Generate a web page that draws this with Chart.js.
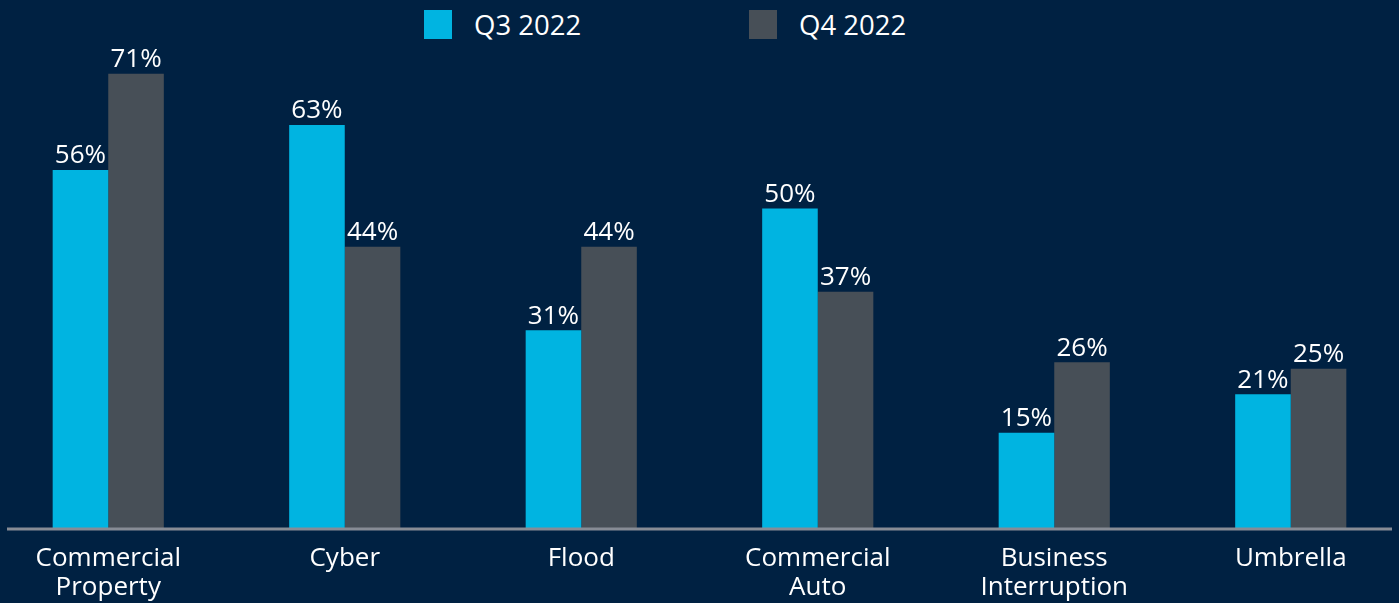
<!DOCTYPE html>
<html lang="en">
<head>
    <meta charset="UTF-8">
    <title>Coverage change by line</title>
    <script src="https://cdn.jsdelivr.net/npm/chart.js"></script>
    <style>
        html, body { margin: 0; padding: 0; background: #002142; overflow: hidden; }
        #wrap { position: absolute; left: -10px; top: 0; width: 1419px; height: 603px; }
        .legend { position: absolute; top: 6px; font-family: 'Open Sans', sans-serif; font-size: 27.5px; color: #fff; display: flex; align-items: center; }
        .legend span.box { display: inline-block; width: 28px; height: 29px; margin-right: 22px; }
    </style>
</head>
<body>
    <div class="legend" style="left:424px"><span class="box" style="background:#00b4e1"></span>Q3 2022</div>
    <div class="legend" style="left:749px"><span class="box" style="background:#474f57"></span>Q4 2022</div>
    <div id="wrap"><canvas id="chart"></canvas></div>
    <script>
        const categories = [['Commercial', 'Property'], 'Cyber', 'Flood', ['Commercial', 'Auto'], ['Business', 'Interruption'], 'Umbrella'];
        const q3_2022 = [56, 63, 31, 50, 15, 21];
        const q4_2022 = [71, 44, 44, 37, 26, 25];

        // value labels above each bar
        const barLabels = {
            id: 'barLabels',
            afterDatasetsDraw(chart) {
                const ctx = chart.ctx;
                ctx.save();
                ctx.fillStyle = '#ffffff';
                ctx.font = '26px "Open Sans", sans-serif';
                ctx.textAlign = 'center';
                ctx.textBaseline = 'bottom';
                chart.data.datasets.forEach((ds, i) => {
                    chart.getDatasetMeta(i).data.forEach((bar, j) => {
                        ctx.fillText(ds.data[j] + '%', bar.x, bar.y - 1);
                    });
                });
                ctx.restore();
            }
        };

        // grey baseline under the bars
        const baseLine = {
            id: 'baseLine',
            afterDatasetsDraw(chart) {
                const ctx = chart.ctx;
                const y = chart.scales.y.getPixelForValue(0);
                ctx.save();
                ctx.strokeStyle = '#878c95';
                ctx.lineWidth = 3;
                ctx.beginPath();
                ctx.moveTo(17, y);
                ctx.lineTo(1402, y);
                ctx.stroke();
                ctx.restore();
            }
        };

        new Chart(document.getElementById('chart'), {
            type: 'bar',
            data: {
                labels: categories,
                datasets: [
                    { label: 'Q3 2022', data: q3_2022, backgroundColor: '#00b4e1' },
                    { label: 'Q4 2022', data: q4_2022, backgroundColor: '#474f57' }
                ]
            },
            options: {
                responsive: true,
                maintainAspectRatio: false,
                animation: false,
                categoryPercentage: 0.47,
                barPercentage: 1,
                layout: { padding: 0 },
                plugins: {
                    legend: { display: false },
                    tooltip: { enabled: false }
                },
                scales: {
                    x: {
                        grid: { display: false },
                        border: { display: false },
                        ticks: {
                            color: '#ffffff',
                            font: { family: 'Open Sans', size: 26, lineHeight: 1.08 },
                            padding: 8,
                            maxRotation: 0,
                            autoSkip: false
                        },
                        afterFit(scale) { scale.height = 74; }
                    },
                    y: {
                        display: false,
                        min: 0,
                        max: 82.5
                    }
                }
            },
            plugins: [barLabels, baseLine]
        });
    </script>
</body>
</html>
